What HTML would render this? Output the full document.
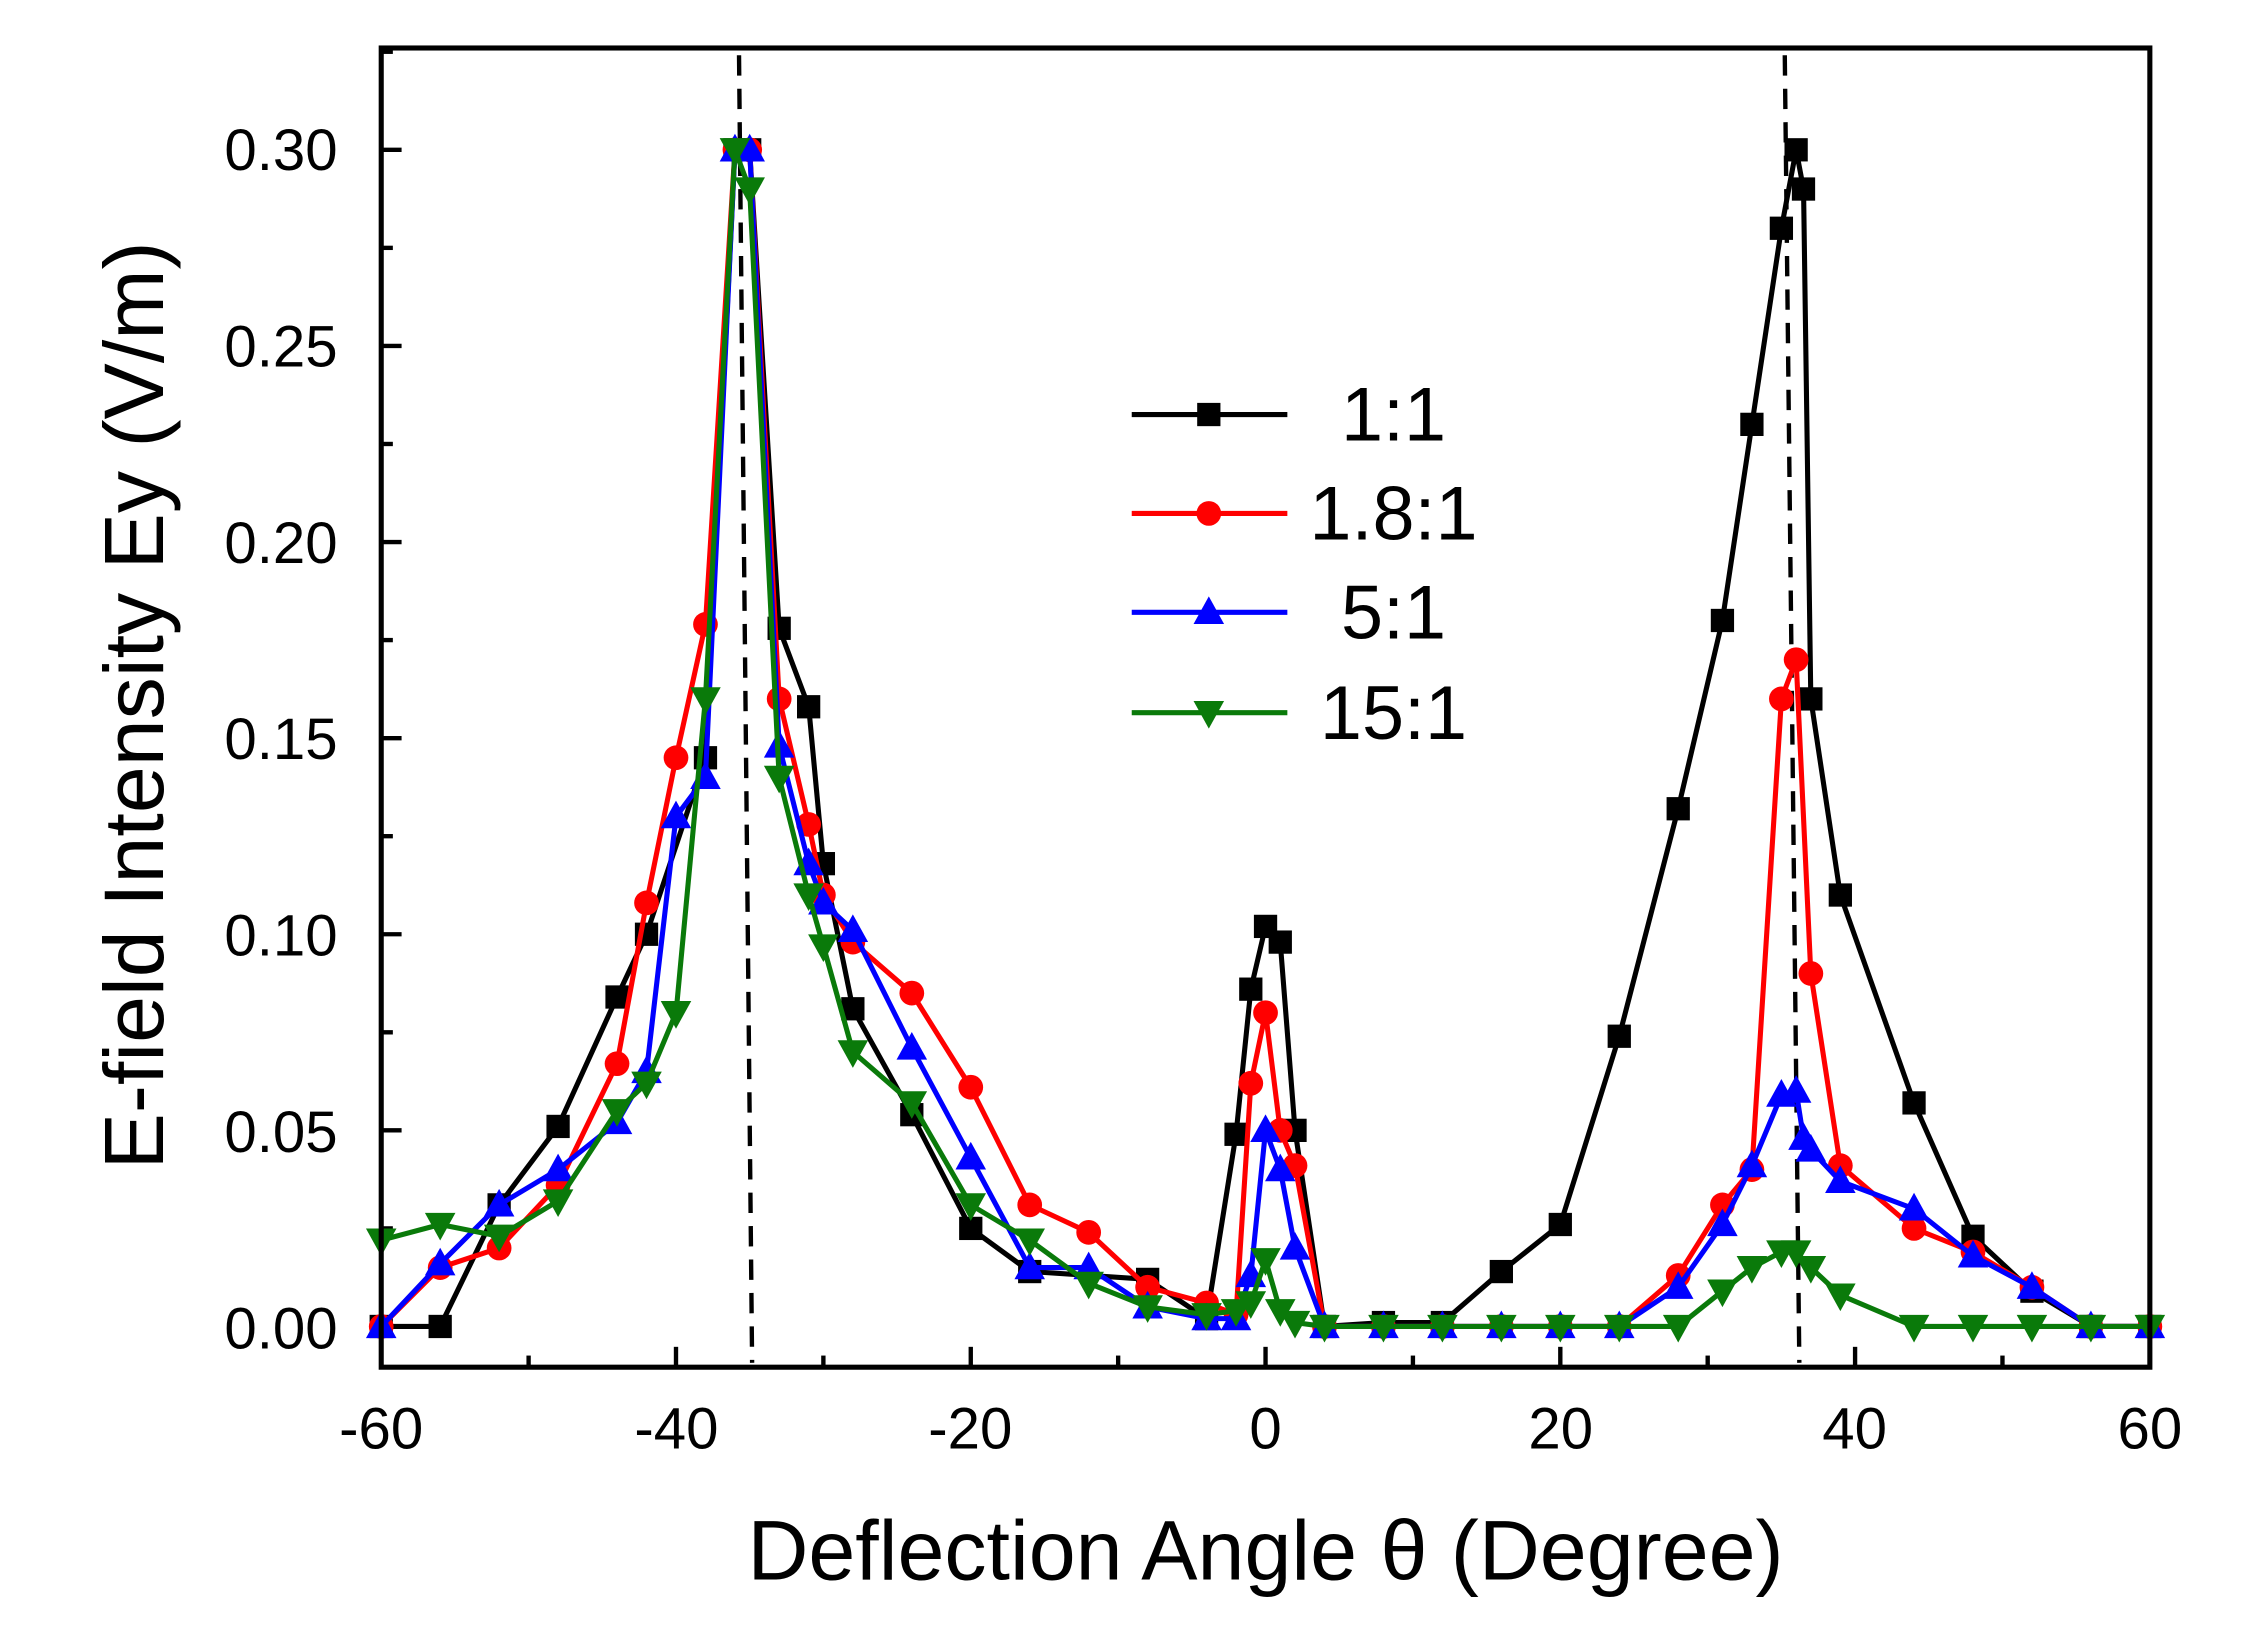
<!DOCTYPE html>
<html><head><meta charset="utf-8"><style>
html,body{margin:0;padding:0;background:#fff}
svg{display:block}
text{font-family:"Liberation Sans",Arial,sans-serif;fill:#000}
</style></head><body>
<svg id="s" width="2262" height="1629" viewBox="0 0 1555 1120" xmlns="http://www.w3.org/2000/svg">
<rect x="0" y="0" width="1555" height="1120" fill="#fff"/>
<g id="ticks" stroke="#000" stroke-width="3"></g>
<line x1="508" y1="38" x2="517" y2="937" stroke="#000" stroke-width="3" stroke-dasharray="14,9"/>
<line x1="1227" y1="38" x2="1237" y2="937" stroke="#000" stroke-width="3" stroke-dasharray="14,9"/>
<g id="series"></g>
<rect x="262" y="33" width="1216" height="907" fill="none" stroke="#000" stroke-width="3.5"/>
<g font-size="40" text-anchor="end">
<text x="232" y="117">0.30</text>
<text x="232" y="252">0.25</text>
<text x="232" y="387">0.20</text>
<text x="232" y="522">0.15</text>
<text x="232" y="657">0.10</text>
<text x="232" y="792">0.05</text>
<text x="232" y="927">0.00</text>
</g>
<g font-size="40" text-anchor="middle">
<text x="262" y="996">-60</text>
<text x="465" y="996">-40</text>
<text x="667" y="996">-20</text>
<text x="870" y="996">0</text>
<text x="1073" y="996">20</text>
<text x="1275" y="996">40</text>
<text x="1478" y="996">60</text>
</g>
<text x="870" y="1086" font-size="58" text-anchor="middle">Deflection Angle θ (Degree)</text>
<text transform="translate(112,485) rotate(-90)" font-size="58" text-anchor="middle">E-field Intensity Ey (V/m)</text>
<g font-size="52" text-anchor="middle">
<text x="958" y="303">1:1</text>
<text x="958" y="371">1.8:1</text>
<text x="958" y="439">5:1</text>
<text x="958" y="508">15:1</text>
</g>
<g id="legend"></g>
</svg>
<script>
var NS="http://www.w3.org/2000/svg";
function X(d){return 262+(d+60)*1216/120;}
function Y(v){return 912-v*809/0.3;}
function el(t,a,p){var e=document.createElementNS(NS,t);for(var k in a)e.setAttribute(k,a[k]);p.appendChild(e);return e;}
var tk=document.getElementById('ticks');
for(var d=-60;d<=60;d+=10){var L=(d%20==0)?14:8;el('line',{x1:X(d),y1:940,x2:X(d),y2:940-L},tk);}
for(var i=0;i<=13;i++){var v=i*0.025;var L=(i%2==0)?14:8;el('line',{x1:262,y1:Y(v),x2:262+L,y2:Y(v)},tk);}
function marker(type,x,y,c,p){
 if(type=='s')el('rect',{x:x-8,y:y-8,width:16,height:16,fill:c},p);
 else if(type=='c')el('circle',{cx:x,cy:y,r:8.5,fill:c},p);
 else if(type=='u')el('polygon',{points:(x)+','+(y-11)+' '+(x-10.5)+','+(y+8)+' '+(x+10.5)+','+(y+8),fill:c},p);
 else el('polygon',{points:(x)+','+(y+11)+' '+(x-10.5)+','+(y-8)+' '+(x+10.5)+','+(y-8),fill:c},p);
}
var zeros=[[8,0],[12,0],[16,0],[20,0],[24,0]];
var S=[
{c:'#000',m:'s',d:[[-60,0],[-56,0],[-52,0.031],[-48,0.051],[-44,0.084],[-42,0.100],[-38,0.145],[-36,0.30],[-35,0.30],[-33,0.178],[-31,0.158],[-30,0.118],[-28,0.081],[-24,0.054],[-20,0.025],[-16,0.014],[-8,0.012],[-4,0.002],[-2,0.049],[-1,0.086],[0,0.102],[1,0.098],[2,0.050],[4,0],[8,0.001],[12,0.001],[16,0.014],[20,0.026],[24,0.074],[28,0.132],[31,0.180],[33,0.230],[35,0.280],[36,0.30],[36.5,0.29],[37,0.16],[39,0.11],[44,0.057],[48,0.023],[52,0.009],[56,0],[60,0]]},
{c:'#f00',m:'c',d:[[-60,0],[-56,0.015],[-52,0.02],[-48,0.036],[-44,0.067],[-42,0.108],[-40,0.145],[-38,0.179],[-36,0.30],[-35,0.30],[-33,0.160],[-31,0.128],[-30,0.110],[-28,0.098],[-24,0.085],[-20,0.061],[-16,0.031],[-12,0.024],[-8,0.010],[-4,0.006],[-2,0.003],[-1,0.062],[0,0.080],[1,0.050],[2,0.041],[4,0]].concat(zeros).concat([[28,0.013],[31,0.031],[33,0.040],[35,0.16],[36,0.17],[37,0.09],[39,0.041],[44,0.025],[48,0.019],[52,0.010],[56,0],[60,0]])},
{c:'#00f',m:'u',d:[[-60,0],[-56,0.016],[-52,0.031],[-48,0.040],[-44,0.052],[-42,0.065],[-40,0.130],[-38,0.140],[-36,0.30],[-35,0.30],[-33,0.148],[-31,0.118],[-30,0.108],[-28,0.101],[-24,0.071],[-20,0.043],[-16,0.015],[-12,0.015],[-8,0.005],[-4,0.002],[-2,0.002],[-1,0.013],[0,0.050],[1,0.040],[2,0.020],[4,0]].concat(zeros).concat([[28,0.010],[31,0.026],[33,0.041],[35,0.059],[36,0.060],[36.5,0.048],[37,0.045],[39,0.037],[44,0.030],[48,0.018],[52,0.010],[56,0],[60,0]])},
{c:'#0a7a0a',m:'d',d:[[-60,0.022],[-56,0.026],[-52,0.023],[-48,0.032],[-44,0.055],[-42,0.062],[-40,0.080],[-38,0.160],[-36,0.30],[-35,0.29],[-33,0.140],[-31,0.110],[-30,0.097],[-28,0.070],[-24,0.057],[-20,0.031],[-16,0.022],[-12,0.011],[-8,0.005],[-4,0.003],[-2,0.004],[-1,0.006],[0,0.017],[1,0.004],[2,0.001],[4,0]].concat(zeros).concat([[28,0],[31,0.009],[33,0.015],[35,0.019],[36,0.019],[37,0.015],[39,0.008],[44,0],[48,0],[52,0],[56,0],[60,0]])}
];
var g=document.getElementById('series'),lg=document.getElementById('legend');
var ly=[285,353,421,490];
S.forEach(function(s,i){
 var pts=s.d.map(function(p){return X(p[0]).toFixed(1)+','+Y(p[1]).toFixed(1);}).join(' ');
 el('polyline',{points:pts,fill:'none',stroke:s.c,'stroke-width':3.5,'stroke-linejoin':'round'},g);
 s.d.forEach(function(p){marker(s.m,X(p[0]),Y(p[1]),s.c,g);});
 el('line',{x1:778,y1:ly[i],x2:885,y2:ly[i],stroke:s.c,'stroke-width':3.5},lg);
 marker(s.m,831,ly[i],s.c,lg);
});
</script>
</body></html>
